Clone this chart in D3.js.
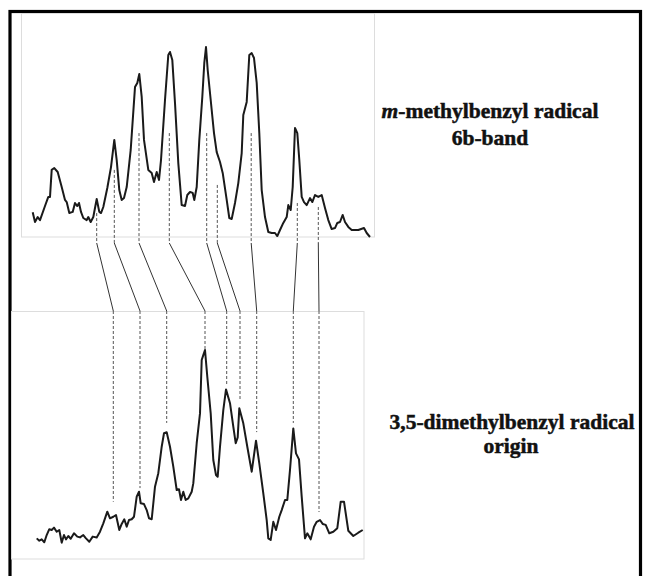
<!DOCTYPE html>
<html>
<head>
<meta charset="utf-8">
<script src="https://cdn.jsdelivr.net/npm/d3@7"></script>
<style>
  body { margin: 0; background: #fff; }
  svg { display: block; }
  .label { font-family: "Liberation Serif", "Times New Roman", serif; font-weight: bold; font-size: 21.5px; fill: #111; stroke: #111; stroke-width: 0.5px; }
</style>
</head>
<body>
<svg width="646" height="576"></svg>
<script>
// m-methylbenzyl radical, 6b band: [relative position, intensity]
const topSpectrum = [
  [12.7, 13.0], [15, 7.9], [17.7, 10.5], [20, 8.9], [25, 16.3], [28.3, 21.1], [30, 21.1],
  [31.7, 35.3], [34.3, 36.3], [37.7, 34.2], [41.7, 26.3], [45, 19.5], [46.7, 18.4],
  [49.3, 12.6], [52.7, 13.2], [55, 17.9], [57.3, 16.3], [59, 17.9], [61, 13.2], [63.3, 10.0],
  [66.7, 8.9], [68.3, 10.5], [70.7, 7.9], [73.3, 10.5], [76.7, 20.0], [79.3, 13.2], [81, 12.6],
  [83.3, 15.8], [87.3, 25.8], [91, 36.8], [94.3, 51.1], [96.7, 40.5], [99.3, 24.7],
  [101.7, 19.5], [104, 20.5], [106.7, 26.3], [110.7, 45.8], [115, 78.9], [117.3, 81.1],
  [119.3, 85.8], [121.7, 73.7], [124, 51.1], [128.3, 35.3], [131.7, 33.7], [134, 28.9],
  [136.7, 34.2], [139, 30.0], [141, 40.5], [145, 72.1], [148.3, 95.8], [150, 97.4],
  [152.3, 93.2], [155, 70.5], [158.3, 38.9], [161.7, 16.8], [165, 16.3], [167.3, 22.1],
  [170, 23.7], [172.7, 23.2], [174.3, 19.5], [176.7, 26.3], [179.3, 51.1], [182.3, 73.7],
  [184.3, 91.6], [186, 100], [187.7, 87.9], [190.7, 72.1], [194, 54.7], [196.7, 44.7],
  [200, 39.5], [202.7, 33.7], [206.7, 19.5], [209.3, 10.0], [211.7, 9.5], [215, 17.9],
  [218.3, 28.4], [221.7, 44.2], [223.3, 64.2], [226.7, 71.1], [229.3, 95.8], [231.7, 96.8],
  [234, 94.2], [236.7, 81.1], [239.3, 54.7], [241.7, 24.7], [245, 10.5], [248.3, 2.6],
  [251.7, 2.1], [255, 2.1], [257.3, 0.5], [260, 3.7], [263.3, 7.4], [266.7, 10.5],
  [268.3, 16.8], [270.7, 14.2], [272.7, 26.3], [275, 57.4], [277.3, 54.7], [279.3, 40.5],
  [281.7, 21.1], [284, 18.4], [286.7, 16.8], [290, 20.5], [292.3, 18.4], [295, 22.1],
  [298.3, 21.1], [301.7, 22.1], [305, 15.3], [308.3, 8.9], [311.7, 4.2], [315, 4.7],
  [317.3, 7.4], [320, 7.9], [322.7, 11.6], [325, 7.9], [328.3, 5.3], [331.7, 3.7],
  [338.3, 3.7], [344, 4.7], [346.7, 2.1], [350, 0]
];

// 3,5-dimethylbenzyl radical, origin band
const bottomSpectrum = [
  [16.7, 3.4], [19.3, 2.2], [21.7, 2.9], [24.3, 1.4], [26.7, 5.1], [29.3, 8.1], [31.7, 7.7],
  [34, 8.9], [36.7, 6.8], [39.3, 7.7], [41.7, 1.2], [44, 5.1], [46, 2.9], [48.3, 4.6],
  [50.7, 3.2], [54, 6.0], [57.3, 4.3], [60, 3.9], [63.3, 5.1], [66, 3.4], [69.3, 1.7],
  [72.7, 4.3], [76.7, 3.9], [80, 6.8], [83.3, 11.1], [87.3, 17.1], [90, 13.7], [93.3, 14.5],
  [96, 15.4], [99.3, 7.7], [101.7, 10.8], [104.3, 13.2], [106.7, 9.4], [109, 12.8],
  [111.7, 13.2], [114, 14.5], [116.7, 24.8], [119, 27.3], [120.7, 21.4], [124, 21.0],
  [126.7, 17.9], [129, 13.7], [131.7, 13.2], [135, 29.9], [138.3, 36.8], [141.7, 50.4],
  [144, 57.3], [146.7, 57.8], [150, 50.4], [153.3, 40.2], [156.7, 28.2], [159, 28.6],
  [161, 23.1], [163.3, 27.3], [165.7, 23.1], [168.3, 23.9], [171.7, 27.3], [173.3, 31.6],
  [176.7, 52.2], [180, 67.5], [181.7, 94.9], [183.3, 97.4], [185, 100], [187.3, 86.3],
  [190.7, 67.5], [193.3, 43.6], [196, 35.9], [197.7, 35.0], [200, 50.4], [203.3, 69.2],
  [206, 79.8], [210, 72.7], [213.3, 60.7], [215.7, 52.2], [217.7, 55.2], [219.3, 70.1],
  [223.3, 62.4], [227.3, 50.4], [231.7, 37.6], [236, 53.5], [239.3, 41.9], [243.3, 26.5],
  [246.7, 12.8], [248.3, 3.4], [250.7, 2.6], [253.3, 11.9], [256, 7.7], [259.3, 14.5],
  [261.7, 17.9], [265, 23.1], [267.3, 23.1], [270, 38.5], [273.3, 59.8], [276, 47.0],
  [279, 43.9], [281.7, 24.8], [285, 3.4], [287.3, 6.0], [290.7, 2.9], [294, 9.4],
  [296.7, 11.9], [300, 12.8], [302.7, 10.8], [305.7, 10.3], [309.3, 6.0], [313.3, 6.8],
  [317.3, 8.6], [320.7, 22.2], [324, 22.2], [328.3, 7.3], [333.3, 4.6], [338.3, 6.3],
  [342.7, 7.7]
];

// band correlations: top band position / level, matching bottom band position / level
const topBands = [76.7, 94.3, 119, 149.3, 186.7, 197.3, 231.2, 277.3, 298.3];
const topBandLevels = [12.6, 35.3, 54.7, 54.7, 54.7, 27.4, 54.7, 17.9, 15.8];
const bottomBands = [93.3, 120, 146.7, 185, 206.7, 220, 236.7, 273.3, 299];
const bottomBandLevels = [22.2, 29.2, 62.6, 100, 82.1, 74.4, 57.9, 62.6, 16.9];

const svg = d3.select("svg");

// outer frame
svg.append("rect")
  .attr("x", 10).attr("y", 11.5)
  .attr("width", 630.5).attr("height", 580)
  .attr("fill", "none").attr("stroke", "#000").attr("stroke-width", 3.2);

const x = d3.scaleLinear().domain([0, 355]).range([20, 375]);
const yTop = d3.scaleLinear().domain([0, 100]).range([237, 47]);
const yBot = d3.scaleLinear().domain([0, 100]).range([545, 350]);

// panel boxes
svg.append("rect")
  .attr("x", 21.5).attr("y", 13.5).attr("width", 353).attr("height", 223.5)
  .attr("fill", "none").attr("stroke", "#ddd").attr("stroke-width", 1);
svg.append("rect")
  .attr("x", 11.5).attr("y", 311.5).attr("width", 352.5).attr("height", 247.5)
  .attr("fill", "none").attr("stroke", "#ddd").attr("stroke-width", 1);

const bands = topBands.map((t, i) => ({
  t, tl: topBandLevels[i], b: bottomBands[i], bl: bottomBandLevels[i]
}));

const guides = svg.append("g").attr("class", "guides");

// dashed drops from top bands
guides.selectAll(".topDash")
  .data(bands)
  .enter()
  .append("line")
  .attr("x1", d => x(d.t)).attr("x2", d => x(d.t))
  .attr("y1", d => yTop(d.tl)).attr("y2", 243)
  .attr("stroke", "#555").attr("stroke-width", 1)
  .attr("stroke-dasharray", "3,2");

// slanted connectors
guides.selectAll(".link")
  .data(bands)
  .enter()
  .append("line")
  .attr("x1", d => x(d.t)).attr("y1", 243)
  .attr("x2", d => x(d.b)).attr("y2", 311)
  .attr("stroke", "#333").attr("stroke-width", 1);

// dashed drops to bottom bands
guides.selectAll(".botDash")
  .data(bands)
  .enter()
  .append("line")
  .attr("x1", d => x(d.b)).attr("x2", d => x(d.b))
  .attr("y1", 311).attr("y2", d => yBot(d.bl))
  .attr("stroke", "#555").attr("stroke-width", 1)
  .attr("stroke-dasharray", "3,2");

const line = (yScale) => d3.line()
  .x(d => x(d[0]))
  .y(d => yScale(d[1]));

svg.append("path")
  .datum(topSpectrum)
  .attr("d", line(yTop))
  .attr("fill", "none").attr("stroke", "#1a1a1a")
  .attr("stroke-width", 2).attr("stroke-linejoin", "round");

svg.append("path")
  .datum(bottomSpectrum)
  .attr("d", line(yBot))
  .attr("fill", "none").attr("stroke", "#1a1a1a")
  .attr("stroke-width", 2).attr("stroke-linejoin", "round");

// labels
const t1 = svg.append("text").attr("class", "label")
  .attr("x", 490).attr("y", 118).attr("text-anchor", "middle");
t1.append("tspan").attr("font-style", "italic").text("m");
t1.append("tspan").text("-methylbenzyl radical");
svg.append("text").attr("class", "label")
  .attr("x", 490).attr("y", 145).attr("text-anchor", "middle").text("6b-band");

svg.append("text").attr("class", "label")
  .attr("x", 512).attr("y", 429).attr("text-anchor", "middle").text("3,5-dimethylbenzyl radical");
svg.append("text").attr("class", "label")
  .attr("x", 511).attr("y", 453).attr("text-anchor", "middle").text("origin");
</script>
</body>
</html>
